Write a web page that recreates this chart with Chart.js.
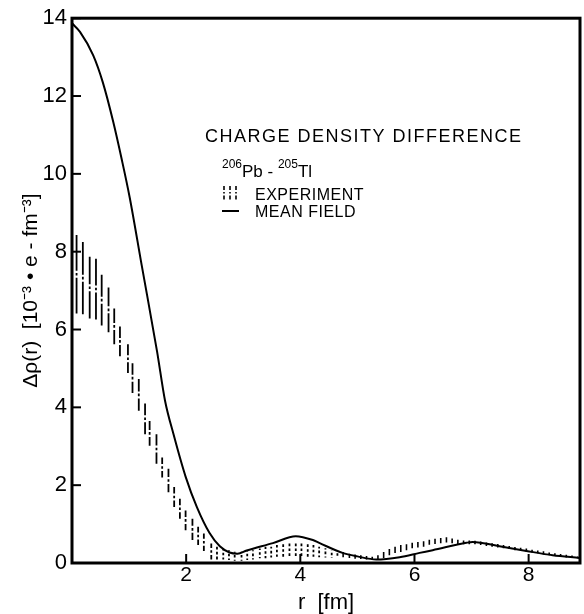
<!DOCTYPE html>
<html>
<head>
<meta charset="utf-8">
<script src="https://cdn.jsdelivr.net/npm/chart.js@4.4.0/dist/chart.umd.min.js"></script>
<style>
html, body { margin: 0; padding: 0; background: #fff; }
#wrap { width: 584px; height: 614px; }
</style>
</head>
<body>
<div id="wrap"><canvas id="c" width="584" height="614"></canvas></div>
<script>
// ---- data ----
const xTickValues = [2, 4, 6, 8];
const yTickValues = [0, 2, 4, 6, 8, 10, 12, 14];

const meanFieldR = [0, 0.14, 0.37, 0.54, 0.72, 0.87, 1.01, 1.22, 1.49, 1.63, 1.78, 1.99, 2.19, 2.41, 2.59, 2.76, 2.90, 3.06, 3.52, 3.92, 4.22, 4.34, 4.74, 5.0, 5.33, 5.74, 6.09, 6.32, 6.91, 7.02, 7.49, 7.96, 8.42, 8.89];
const meanFieldValues = [13.87, 13.65, 13.05, 12.35, 11.35, 10.38, 9.40, 7.66, 5.44, 4.17, 3.30, 2.22, 1.43, 0.77, 0.43, 0.27, 0.24, 0.32, 0.51, 0.69, 0.59, 0.51, 0.26, 0.17, 0.09, 0.15, 0.26, 0.33, 0.52, 0.54, 0.43, 0.31, 0.20, 0.13];

const experimentR = [0.08,0.19,0.31,0.42,0.52,0.64,0.74,0.84,0.98,1.06,
  1.17,1.28,1.36,1.48,1.58,1.69,1.79,1.89,1.99,2.11,
  2.21,2.31,2.44,2.54,2.65,2.75,2.85,2.97,3.07,3.17,
  3.29,3.39,3.49,3.59,3.70,3.81,3.92,4.02,4.13,4.23,
  4.33,4.44,4.55,4.65,4.75,4.86,4.96,5.06,5.16,5.26,
  5.36,5.46,5.56,5.66,5.76,5.86,5.96,6.06,6.16,6.26,
  6.36,6.46,6.56,6.66,6.76,6.86,6.96,7.06,7.16,7.26,
  7.36,7.46,7.56,7.66,7.76,7.86,7.96,8.06,8.16,8.26,
  8.36,8.46,8.56,8.66,8.76,8.86];
const experimentLow = [6.41,6.39,6.28,6.26,6.10,5.93,5.62,5.31,4.88,4.37,
  3.91,3.31,3.01,2.55,2.20,1.82,1.44,1.14,0.84,0.59,
  0.46,0.31,0.09,0.09,0.09,0.08,0.06,0.06,0.08,0.09,
  0.12,0.12,0.14,0.16,0.16,0.18,0.18,0.18,0.16,0.16,
  0.15,0.14,0.13,0.14,0.15,0.13,0.11,0.10,0.09,0.08,
  0.08,0.13,0.20,0.26,0.28,0.33,0.38,0.40,0.42,0.47,
  0.49,0.51,0.53,0.51,0.49,0.48,0.48,0.48,0.46,0.44,
  0.42,0.40,0.38,0.36,0.33,0.31,0.29,0.27,0.25,0.22,
  0.20,0.18,0.16,0.14,0.13,0.12];
const experimentHigh = [8.43,8.25,7.87,7.82,7.41,7.08,6.54,6.08,5.62,5.13,
  4.73,4.10,3.65,3.31,2.71,2.42,1.95,1.65,1.35,1.14,
  0.93,0.76,0.50,0.42,0.37,0.33,0.29,0.29,0.33,0.33,
  0.37,0.42,0.42,0.46,0.48,0.50,0.50,0.50,0.48,0.46,
  0.42,0.38,0.33,0.30,0.28,0.24,0.22,0.20,0.18,0.16,
  0.20,0.28,0.36,0.42,0.46,0.48,0.52,0.54,0.56,0.60,
  0.62,0.64,0.66,0.63,0.60,0.58,0.58,0.57,0.55,0.53,
  0.51,0.49,0.46,0.44,0.41,0.39,0.37,0.34,0.32,0.30,
  0.27,0.25,0.23,0.21,0.19,0.17];

const solidTickFrom = 4.7; // beyond this r the experimental bars are drawn as plain ticks

// ---- build datasets ----
function barPoints(filter) {
  const pts = [];
  experimentR.forEach((r, i) => {
    if (!filter(r)) return;
    const lo = experimentLow[i], hi = experimentHigh[i];
    const mid = (lo + hi) / 2;
    // two half-bars, each starting at the centre (dot), so the dash pattern centres on it
    pts.push({x: r, y: mid}, {x: r, y: hi}, {x: r, y: null});
    pts.push({x: r, y: mid}, {x: r, y: lo}, {x: r, y: null});
  });
  return pts;
}
const meanFieldPoints = meanFieldR.map((r, i) => ({x: r, y: meanFieldValues[i]}));

const FONT = '"Liberation Sans", Arial, sans-serif';

const frameAndTicks = {
  id: 'frameAndTicks',
  afterDatasetsDraw(chart) {
    const {ctx, chartArea: a, scales: {x, y}} = chart;
    ctx.save();
    ctx.strokeStyle = '#000';
    ctx.lineWidth = 3;
    ctx.strokeRect(a.left, a.top, a.right - a.left, a.bottom - a.top);
    ctx.lineWidth = 2;
    x.ticks.forEach(t => {
      const px = x.getPixelForValue(t.value);
      ctx.beginPath(); ctx.moveTo(px, a.bottom); ctx.lineTo(px, a.bottom - 9); ctx.stroke();
    });
    y.ticks.forEach(t => {
      const py = y.getPixelForValue(t.value);
      ctx.beginPath(); ctx.moveTo(a.left, py); ctx.lineTo(a.left + 9, py); ctx.stroke();
    });
    ctx.restore();
  }
};

const annotation = {
  id: 'annotation',
  afterDraw(chart) {
    const ctx = chart.ctx;
    ctx.save();
    ctx.fillStyle = '#000';
    ctx.strokeStyle = '#000';
    ctx.textBaseline = 'alphabetic';
    ctx.textAlign = 'left';
    ctx.letterSpacing = '1.5px';
    ctx.font = '18px ' + FONT;
    ctx.fillText('CHARGE DENSITY DIFFERENCE', 205, 142);

    // isotope line
    ctx.letterSpacing = '0px';
    let xx = 222;
    const sup = '12px ' + FONT, big = '17px ' + FONT;
    const parts = [['206', sup, 168], ['Pb', big, 177], [' - ', big, 177], ['205', sup, 168], ['Tl', big, 177]];
    parts.forEach(([t, f, yb]) => { ctx.font = f; ctx.fillText(t, xx, yb); xx += ctx.measureText(t).width; });

    // legend
    ctx.font = '16px ' + FONT;
    ctx.letterSpacing = '0.5px';
    ctx.fillText('EXPERIMENT', 255, 200);
    ctx.fillText('MEAN FIELD', 255, 217);
    ctx.lineWidth = 1.6;
    ctx.setLineDash([4, 2, 1.5, 2, 4, 2]);
    [224, 230, 236].forEach(px => { ctx.beginPath(); ctx.moveTo(px, 186); ctx.lineTo(px, 200); ctx.stroke(); });
    ctx.setLineDash([]);
    ctx.lineWidth = 2;
    ctx.beginPath(); ctx.moveTo(222, 211); ctx.lineTo(239, 211); ctx.stroke();
    ctx.restore();
  }
};

Chart.defaults.color = '#000';
Chart.defaults.font.family = FONT;

new Chart(document.getElementById('c'), {
  type: 'scatter',
  data: {
    datasets: [
      {
        label: 'Experiment',
        data: barPoints(r => r < solidTickFrom),
        showLine: true, spanGaps: false,
        borderColor: '#000', borderWidth: 1.8,
        borderDash: [1.3, 2.2, 1000, 2],
        pointRadius: 0, pointHoverRadius: 0
      },
      {
        label: 'Experiment (ticks)',
        data: barPoints(r => r >= solidTickFrom),
        showLine: true, spanGaps: false,
        borderColor: '#000', borderWidth: 1.6,
        pointRadius: 0, pointHoverRadius: 0
      },
      {
        label: 'Mean field',
        data: meanFieldPoints,
        showLine: true,
        borderColor: '#000', borderWidth: 2,
        cubicInterpolationMode: 'monotone',
        pointRadius: 0, pointHoverRadius: 0
      }
    ]
  },
  options: {
    responsive: false,
    animation: false,
    layout: { padding: { left: 0, right: 4, top: 15, bottom: 0 } },
    plugins: { legend: { display: false }, tooltip: { enabled: false } },
    scales: {
      x: {
        type: 'linear', min: 0, max: 8.9,
        afterBuildTicks: s => { s.ticks = xTickValues.map(v => ({value: v})); },
        afterFit: s => { s.height = 51; },
        grid: { display: false, drawTicks: false },
        border: { display: false },
        ticks: { font: { size: 21 }, padding: 0, maxRotation: 0, autoSkip: false },
        title: { display: true, text: 'r  [fm]', font: { size: 22, lineHeight: 1 }, padding: { top: 0, bottom: 0 } }
      },
      y: {
        type: 'linear', min: 0, max: 14,
        afterBuildTicks: s => { s.ticks = yTickValues.map(v => ({value: v})); },
        afterFit: s => { s.width = 72; },
        grid: { display: false, drawTicks: false },
        border: { display: false },
        ticks: { font: { size: 22 }, padding: 5, autoSkip: false },
        title: { display: true, text: 'Δρ(r)  [10⁻³ • e - fm⁻³]', font: { size: 21 }, padding: { top: 19, bottom: 0 } }
      }
    }
  },
  plugins: [frameAndTicks, annotation]
});
</script>
</body>
</html>
